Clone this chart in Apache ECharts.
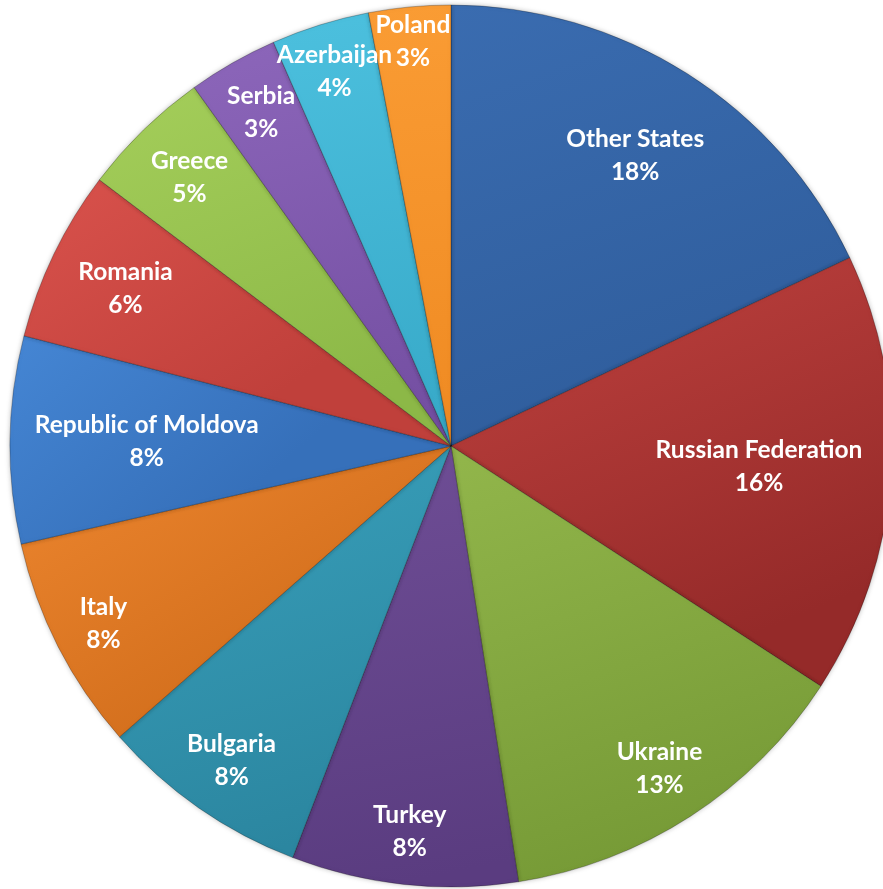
<!DOCTYPE html>
<html>
<head>
<meta charset="utf-8">
<script src="https://cdn.jsdelivr.net/npm/echarts@6/dist/echarts.min.js"></script>
<style>
  html, body { margin: 0; padding: 0; background: #fff; }
  #chart { width: 883px; height: 889px; }
</style>
</head>
<body>
<div id="chart"></div>
<script>
// countries, clockwise from 12 o'clock
const countries = [
  "Other States", "Russian Federation", "Ukraine", "Turkey", "Bulgaria", "Italy",
  "Republic of Moldova", "Romania", "Greece", "Serbia", "Azerbaijan", "Poland"
];
const shares = [18.0, 16.2, 13.4, 8.3, 7.7, 7.9, 7.6, 6.3, 4.8, 3.3, 3.6, 3.0];

// slice colours: [light, dark]
const colors = [
  ["#3a6cb0", "#2f5d9c"],
  ["#c0423f", "#952a29"],
  ["#92b64b", "#769a36"],
  ["#6f4e96", "#5a3c80"],
  ["#39a0bb", "#2b86a0"],
  ["#ed862f", "#d26e1c"],
  ["#4586d4", "#3670ba"],
  ["#d9524c", "#c0403b"],
  ["#a4ce5a", "#8cb847"],
  ["#8c66ba", "#744fa2"],
  ["#4cc0de", "#37a9c8"],
  ["#fa9c34", "#ef8a22"]
];
// how far out (fraction of radius) each label sits
const labelRadius = [0.78, 0.70, 0.87, 0.88, 0.87, 0.885, 0.69, 0.82, 0.85, 0.87, 0.89, 0.92];

const cx = 451, cy = 446, R = 441;
const total = shares.reduce((a, b) => a + b, 0);

const midAngles = [];
let acc = 0;
shares.forEach(v => {
  midAngles.push(((acc + v / 2) / total) * 2 * Math.PI);
  acc += v;
});

const chart = echarts.init(document.getElementById("chart"));

chart.setOption({
  animation: false,
  backgroundColor: "#ffffff",
  series: [
    {
      type: "pie",
      center: [cx, cy],
      radius: [0, R],
      startAngle: 90,
      clockwise: true,
      avoidLabelOverlap: false,
      itemStyle: {
        borderColor: "rgba(0,0,0,0.25)",
        borderWidth: 1,
        shadowBlur: 5,
        shadowColor: "rgba(0,0,0,0.25)"
      },
      label: {
        show: true,
        position: "inside",
        color: "#ffffff",
        fontFamily: "Lato",
        fontWeight: "bold",
        fontSize: 24.5,
        lineHeight: 33,
        align: "center",
        formatter: p => p.name + "\n" + Math.round(p.value / total * 100) + "%"
      },
      labelLine: { show: false },
      labelLayout: p => {
        const i = p.dataIndex;
        const a = midAngles[i];
        const r = R * labelRadius[i];
        return {
          x: cx + r * Math.sin(a),
          y: cy - r * Math.cos(a),
          align: "center",
          verticalAlign: "middle"
        };
      },
      emphasis: { disabled: true },
      data: countries.map((name, i) => ({
        name,
        value: shares[i],
        itemStyle: {
          color: new echarts.graphic.LinearGradient(0, 0, 0.4, 1, [
            { offset: 0, color: colors[i][0] },
            { offset: 1, color: colors[i][1] }
          ])
        }
      }))
    }
  ]
});
</script>
</body>
</html>
